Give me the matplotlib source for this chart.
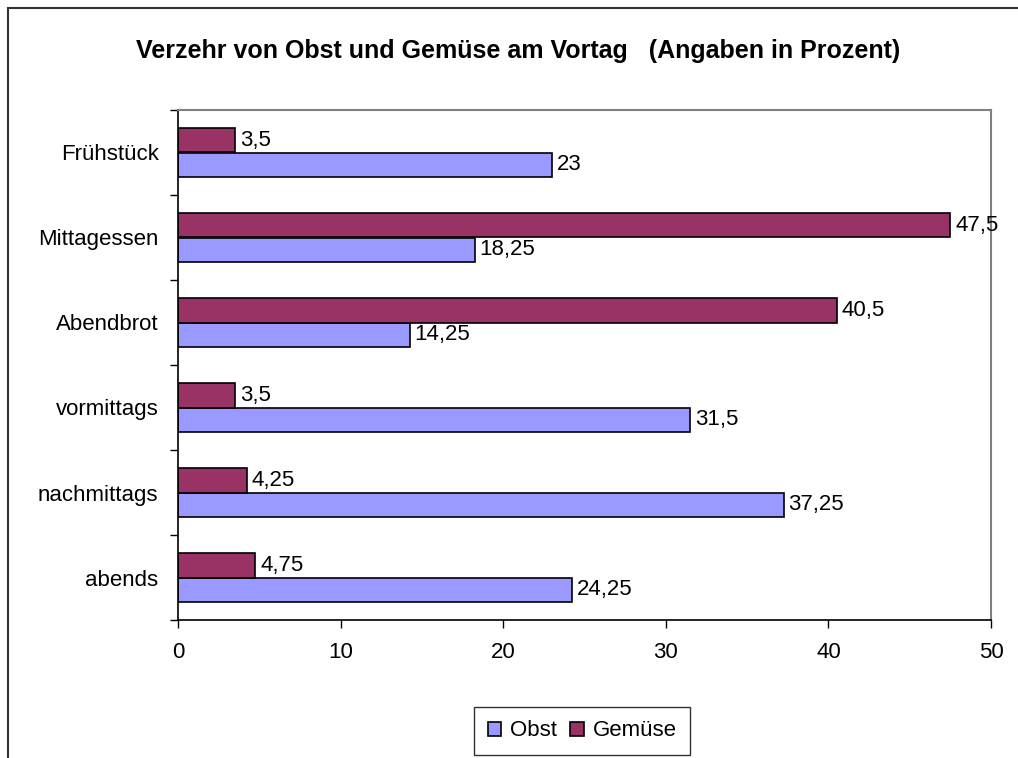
import numpy as np
import matplotlib.pyplot as plt
from matplotlib.patches import Rectangle

plt.rcParams['font.family'] = ['Liberation Sans', 'DejaVu Sans']

categories = ['Frühstück', 'Mittagessen', 'Abendbrot', 'vormittags', 'nachmittags', 'abends']
obst = [23, 18.25, 14.25, 31.5, 37.25, 24.25]
gemuese = [3.5, 47.5, 40.5, 3.5, 4.25, 4.75]

def fmt(v):
    # German decimal comma
    s = ('%g' % v)
    return s.replace('.', ',')

fig = plt.figure(figsize=(10.18, 7.58), dpi=100)
W, H = 1018, 758
ax = fig.add_axes([178 / W, 1 - 620 / H, (991 - 178) / W, (620 - 110) / H])

y = np.arange(len(categories))
h = 0.285
b_obst = ax.barh(y + h / 2, obst, height=h, color='#9999FF', edgecolor='black', linewidth=1.2, label='Obst')
b_gem = ax.barh(y - h / 2, gemuese, height=h, color='#993366', edgecolor='black', linewidth=1.2, label='Gemüse')

for bars, vals in ((b_obst, obst), (b_gem, gemuese)):
    for bar, v in zip(bars, vals):
        ax.text(v + 0.3, bar.get_y() + bar.get_height() / 2, fmt(v),
                va='center', ha='left', fontsize=16)

ax.set_xlim(0, 50)
ax.set_ylim(len(categories) - 0.5, -0.5)
ax.set_xticks(np.arange(0, 51, 10))
ax.set_yticks(y)
ax.set_yticklabels(categories)
ax.set_yticks(np.arange(-0.5, len(categories), 1), minor=True)
ax.tick_params(axis='y', which='major', length=0, pad=14, labelsize=16)
ax.tick_params(axis='y', which='minor', length=6, width=1, direction='out')
ax.tick_params(axis='x', length=6, width=1, direction='out', pad=10, labelsize=16)

for s in ('top', 'right'):
    ax.spines[s].set_color('#808080')
    ax.spines[s].set_linewidth(1.5)
for s in ('left', 'bottom'):
    ax.spines[s].set_color('black')
    ax.spines[s].set_linewidth(1.2)

fig.text(518 / W, 1 - 51 / H, 'Verzehr von Obst und Gemüse am Vortag   (Angaben in Prozent)',
         ha='center', va='center', fontsize=18, fontweight='bold')

leg = fig.legend(handles=[b_obst, b_gem], labels=['Obst', 'Gemüse'], loc='center',
                 bbox_to_anchor=(582 / W, 1 - 731 / H), ncol=2, fontsize=16,
                 frameon=True, fancybox=False, edgecolor='black', handlelength=0.6,
                 handleheight=0.6, handletextpad=0.4, columnspacing=0.6, borderpad=0.6)
leg.get_frame().set_linewidth(1.0)

# outer chart frame (cropped on right and bottom)
fig.patches.append(Rectangle((8 / W, -0.1), 1.2, 1 - 8 / H + 0.1, transform=fig.transFigure,
                             fill=False, edgecolor='#333333', linewidth=1.5))

fig.savefig('out.png', dpi=100)
